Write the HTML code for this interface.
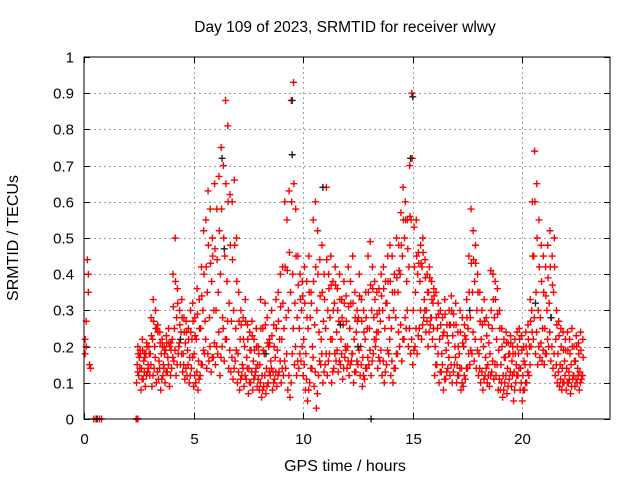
<!DOCTYPE html>
<html><head><meta charset="utf-8"><style>
body{margin:0;background:#fff}
svg{display:block;font-family:"Liberation Sans",sans-serif}
</style></head><body>
<svg id="chart" width="640" height="480" viewBox="0 0 640 480">
<text x="345" y="32" font-size="15.5" text-anchor="middle">Day 109 of 2023, SRMTID for receiver wlwy</text>
<text transform="translate(18,238) rotate(-90)" font-size="16" text-anchor="middle">SRMTID / TECUs</text>
<text x="345" y="471" font-size="16" text-anchor="middle">GPS time / hours</text>
<g id="grid"></g><g id="ticks"></g><g id="marks"></g>
<rect x="84" y="57" width="526" height="362" fill="none" stroke="#000" stroke-width="1"/>
</svg>
<script>
const xTicks=[0,5,10,15,20];
const yTicks=[0,0.1,0.2,0.3,0.4,0.5,0.6,0.7,0.8,0.9,1];
const yTickLabels=["0","0.1","0.2","0.3","0.4","0.5","0.6","0.7","0.8","0.9","1"];
const redStart=2.4, redStep=0.1;
const redLow=[10,12,8,11,9,13,
12,9,14,10,11,8,12,10,13,9,
14,16,12,18,15,13,11,12,10,14,
9,10,8,12,15,18,14,16,13,17,
15,18,12,20,16,22,14,13,11,16,
10,8,12,9,11,7,10,8,12,9,
8,6,9,7,10,12,8,11,9,13,
10,12,14,8,6,18,15,12,14,16,
12,8,5,10,14,9,3,12,15,10,
15,12,18,10,14,16,13,15,11,17,
14,12,16,10,13,15,12,9,11,14,
15,12,18,20,14,16,12,10,15,18,
12,10,14,18,20,16,22,25,20,18,
15,20,18,25,22,28,24,20,26,22,
12,15,10,13,8,11,14,12,10,15,
10,12,8,9,11,14,15,18,16,14,
12,10,8,12,10,9,13,11,12,8,
8,6,10,7,11,9,5,10,12,8,
5,8,10,12,20,22,18,15,17,16,
15,18,20,16,14,12,10,9,8,10,
8,10,7,11,9,10,8,11];
const redQ1=[13,14,11,13,12,14,
15,12,17,13,14,11,14,13,15,12,
17,19,15,21,18,15,14,15,12,17,
12,13,11,15,19,22,18,20,17,21,
20,24,17,25,22,27,19,17,14,19,
13,11,14,12,14,10,13,11,14,11,
10,8,12,9,13,14,10,13,12,16,
14,16,18,12,10,25,20,16,18,20,
15,11,8,14,17,13,7,16,18,13,
18,16,22,13,18,19,16,18,14,19,
16,15,18,13,16,19,15,12,14,17,
19,16,22,24,17,19,16,13,19,22,
16,14,18,24,26,22,28,30,25,22,
19,25,23,30,26,30,27,24,28,25,
15,18,13,15,11,13,17,15,13,17,
12,14,10,12,14,18,19,24,22,19,
14,13,11,14,12,12,16,15,15,11,
10,8,12,9,13,12,8,12,14,10,
8,10,13,15,24,28,24,20,21,19,
18,22,24,20,18,15,13,11,10,12,
10,11,9,12,11,12,10,12];
const redMid=[15,17,14,16,18,15,
18,22,20,25,16,18,15,19,17,20,
22,25,28,20,24,18,21,19,17,22,
18,22,16,25,30,27,35,28,38,30,
30,35,40,28,45,38,32,27,30,25,
18,22,15,20,17,14,19,16,13,15,
15,12,18,14,20,16,13,17,19,22,
22,25,28,30,35,40,32,28,25,30,
22,18,25,28,20,26,30,24,22,27,
25,30,28,22,32,24,27,22,26,20,
20,25,18,22,24,28,20,17,22,25,
25,30,28,22,24,27,30,25,32,28,
25,30,28,35,40,45,50,38,42,55,
30,35,40,38,42,33,30,35,28,32,
20,25,22,18,24,19,21,26,23,20,
15,18,14,20,22,25,28,35,38,30,
18,22,20,17,15,18,25,28,22,19,
15,12,17,14,18,16,13,15,18,14,
12,15,18,20,30,45,35,30,28,25,
25,30,32,28,35,22,18,15,14,16,
14,13,15,12,16,14,13,12];
const redQ3=[18,18,19,17,20,18,
23,27,25,24,21,20,18,21,21,19,
31,38,32,26,28,24,24,22,24,27,
23,29,25,34,40,42,48,43,45,47,
44,52,58,50,65,60,48,44,48,38,
27,26,22,27,22,19,23,19,20,18,
25,19,26,21,21,23,20,25,27,31,
32,42,41,46,60,65,45,37,33,34,
32,28,35,32,38,42,40,34,35,33,
44,36,37,30,37,30,33,28,32,27,
31,32,32,28,27,34,27,24,28,35,
37,36,33,29,30,34,36,32,38,38,
35,35,39,41,48,55,55,47,56,72,
42,45,43,43,46,39,35,39,33,34,
28,29,26,23,29,23,26,30,26,26,
20,24,21,23,28,35,43,44,43,35,
27,26,27,23,21,30,33,33,29,25,
20,17,21,18,21,18,18,20,22,19,
16,20,22,27,45,60,50,42,38,35,
34,39,42,37,42,26,23,20,19,19,
19,18,20,16,20,18,19,17];
const redHigh=[20,19,22,18,21,20,
28,33,30,26,24,22,20,23,25,21,
40,50,36,30,33,28,27,25,30,32,
28,36,33,42,52,55,63,58,50,65,
58,67,75,70,88,81,62,60,66,50,
35,30,28,33,26,24,27,22,25,20,
33,25,32,28,22,30,26,33,35,40,
42,60,55,63,88,93,58,45,40,38,
42,38,45,35,55,60,52,44,48,40,
64,40,45,38,42,36,40,33,38,34,
42,38,45,35,30,40,33,30,35,45,
49,42,38,35,36,40,42,38,45,48,
45,40,50,48,57,64,60,55,70,90,
53,55,46,48,50,44,40,42,38,36,
35,32,30,28,33,26,30,34,29,32,
24,30,28,26,33,45,58,52,48,40,
35,30,33,28,26,41,40,38,36,30,
25,22,24,21,23,20,22,24,25,23,
20,24,26,33,60,74,65,55,48,45,
42,48,52,45,50,30,27,25,24,22,
24,22,25,20,23,21,24,22];
const redExtraT=[0.05,0.1,0.15,0.2,0.25,0.1,0.2,0.3,0.05,0.45,0.55,0.7,0.8,2.38,2.42,2.46];
const redExtraV=[0.22,0.2,0.44,0.35,0.15,0.27,0.4,0.14,0.18,0,0,0,0,0,0,0];
const blackT=[6.3,6.4,9.5,9.5,10.9,15.0,14.9,0.6,13.1,20.6,4.4,8.3,11.7,17.6,21.3,12.5];
const blackV=[0.72,0.47,0.88,0.73,0.64,0.89,0.72,0,0,0.32,0.22,0.18,0.26,0.3,0.28,0.2];

const X0=84,X1=610,Y0=419,Y1=57;
const xs=t=>X0+(t/24)*(X1-X0);
const ys=v=>Y0-v*(Y0-Y1);
const NS="http://www.w3.org/2000/svg";
function mk(tag,attrs,parent){const e=document.createElementNS(NS,tag);for(const k in attrs)e.setAttribute(k,attrs[k]);parent.appendChild(e);return e;}
const grid=document.getElementById('grid'),ticks=document.getElementById('ticks'),marks=document.getElementById('marks');
yTicks.forEach((v,i)=>{
  const y=Math.round(ys(v))+0.5;
  if(v>0&&v<1){const g=mk('line',{x1:X0,x2:X1,y1:y,y2:y,stroke:'#a0a0a0','stroke-dasharray':'2,3'},grid);
  
  }
  const tk=mk('path',{d:`M${X0} ${y}h6M${X1} ${y}h-6`,stroke:'#000'},ticks);
  
  
  const lb=mk('text',{x:X0-10,y:y+5,'font-size':15,'text-anchor':'end'},ticks);lb.textContent=yTickLabels[i];
  
  
});
xTicks.forEach(t=>{
  const x=Math.round(xs(t))+0.5;
  if(t>0){const g=mk('line',{x1:x,x2:x,y1:Y0,y2:Y1,stroke:'#a0a0a0','stroke-dasharray':'2,3'},grid);
  
  }
  const tk=mk('path',{d:`M${x} ${Y0}v-6M${x} ${Y1}v6`,stroke:'#000'},ticks);
  
  
  const lb=mk('text',{x:x,y:Y0+25,'font-size':15,'text-anchor':'middle'},ticks);lb.textContent=String(t);
  
  
});
function plus(t,v,col,name){
  const x=xs(t),y=ys(v);
  const p=mk('path',{d:`M${x-3.5} ${y}h7M${x} ${y-3.5}v7`,stroke:col,'stroke-width':1.4,fill:'none'},marks);
  
  
}
[[redLow,0],[redQ1,0.05],[redMid,0.025],[redQ3,0.075],[redHigh,0.06]].forEach(([arr,off])=>{
  arr.forEach((v,i)=>plus(redStart+i*redStep+off,v/100,'#ff0000','red-point'));
});
redExtraT.forEach((t,i)=>plus(t,redExtraV[i],'#ff0000','red-point'));
blackT.forEach((t,i)=>plus(t,blackV[i],'#202020','black-point'));
</script>
</body></html>
